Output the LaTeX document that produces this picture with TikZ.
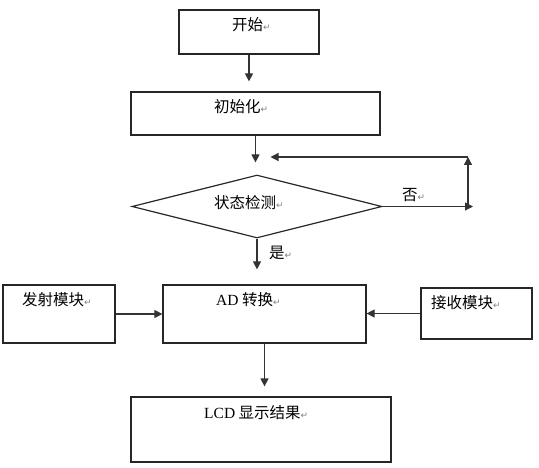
\documentclass[tikz,border=0pt]{standalone}
\usepackage{fontspec}
\setmainfont{Liberation Serif}
\newfontfamily\cjk{Noto Sans CJK SC}
\newfontfamily\symfont{DejaVu Sans}
\usetikzlibrary{arrows.meta, shapes.geometric}
\newcommand{\pmark}{{\symfont\fontsize{9}{9}\selectfont\color{black!50}↵}}

\begin{document}
\begin{tikzpicture}[x=1pt, y=-1pt,
    box/.style={draw=black!85, line width=1.2pt, inner sep=0pt},
    txt/.style={anchor=west, inner sep=0pt, font=\cjk\fontsize{15.5}{17}\selectfont},
    arr/.style={-{Triangle[length=8pt, width=8pt]}, line width=1.2pt, draw=black!80}
]
\useasboundingbox (0,0) rectangle (539,468);
% boxes
\node[box, minimum width=140pt, minimum height=44pt] (start) at (249,32) {};
\node[box, minimum width=249pt, minimum height=43pt] (init) at (255.5,113.5) {};
\node[box, diamond, minimum width=250pt, minimum height=63pt] (check) at (257,206.5) {};
\node[box, minimum width=112pt, minimum height=58pt] (send) at (59,314) {};
\node[box, minimum width=203pt, minimum height=58pt] (ad) at (264.5,314) {};
\node[box, minimum width=111pt, minimum height=51pt] (recv) at (476.5,313.5) {};
\node[box, minimum width=260pt, minimum height=65pt] (lcd) at (261,429.5) {};

% texts
\node[txt] (starttxt) at (232,25)  {开始\pmark};
\node[txt] (inittxt)  at (214,107) {初始化\pmark};
\node[txt] (checktxt) at (214,203) {状态检测\pmark};
\node[txt] (sendtxt)  at (22,300)  {发射模块\pmark};
\node[txt] (adtxt)    at (216,300) {{\rmfamily AD} 转换\pmark};
\node[txt] (recvtxt)  at (431,303) {接收模块\pmark};
\node[txt] (lcdtxt)   at (204,413) {{\rmfamily LCD} 显示结果\pmark};
\node[txt] (no)       at (402,195) {否\pmark};
\node[txt] (yes)      at (269,253) {是\pmark};

% loop back corners
\coordinate (noR) at (473,206.5);
\coordinate (noC) at (468,206.5);
\coordinate (noT) at (468,157);

\draw[arr, shorten >=10pt] (start.south) -- (start.south |- init.north);
\draw[arr, shorten >=12pt] (init.south) -- (init.south |- check.north);
\draw[arr] (check.east) -- (noR);
\draw[arr] (noC) -- (noT);
\draw[arr, shorten >=15pt] (noT) -- (init.south |- noT);
\draw[arr, shorten >=15pt] (check.south) -- (check.south |- ad.north);
\draw[arr] (send.east) -- (ad.west);
\draw[arr] (recv.west) -- (recv.west -| ad.east);
\draw[arr, shorten >=10pt] (ad.south) -- (ad.south |- lcd.north);
\end{tikzpicture}
\end{document}
